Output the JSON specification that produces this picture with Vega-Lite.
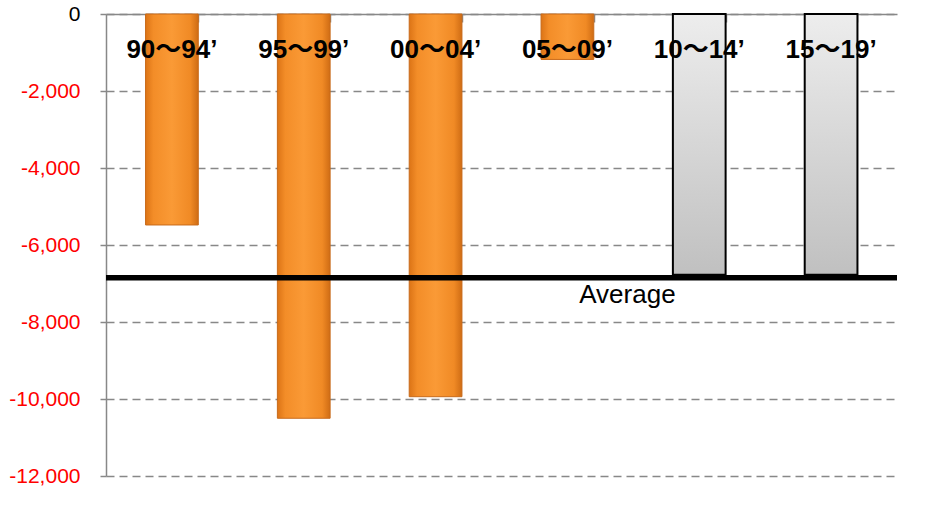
{
  "$schema": "https://vega.github.io/schema/vega-lite/v6.json",
  "width": 791,
  "height": 462,
  "autosize": {"type": "none"},
  "padding": {"left": 106, "top": 14, "right": 31, "bottom": 43},
  "background": "white",
  "config": {"view": {"stroke": null}, "font": "Liberation Sans"},
  "data": {
    "values": [
      {"period": "90～94’", "value": -5480, "kind": "actual"},
      {"period": "95～99’", "value": -10500, "kind": "actual"},
      {"period": "00～04’", "value": -9940, "kind": "actual"},
      {"period": "05～09’", "value": -1180, "kind": "actual"},
      {"period": "10～14’", "value": -6775, "kind": "forecast"},
      {"period": "15～19’", "value": -6775, "kind": "forecast"}
    ]
  },
  "encoding": {
    "x": {
      "field": "period",
      "type": "nominal",
      "sort": null,
      "scale": {"paddingInner": 0.6, "paddingOuter": 0.3},
      "axis": {
        "orient": "top",
        "title": null,
        "labels": false,
        "domainColor": "#888888",
        "domainWidth": 1.5,
        "tickColor": "#888888",
        "tickWidth": 1.5,
        "tickSize": -8,
        "tickBand": "extent"
      }
    }
  },
  "layer": [
    {
      "transform": [{"filter": "datum.kind == 'actual'"}],
      "mark": {
        "type": "bar",
        "stroke": "#C86A1A",
        "strokeWidth": 1,
        "color": {
          "gradient": "linear",
          "x1": 0, "x2": 1, "y1": 0, "y2": 0,
          "stops": [
            {"offset": 0, "color": "#DC7416"},
            {"offset": 0.15, "color": "#F38D28"},
            {"offset": 0.5, "color": "#FA9A36"},
            {"offset": 0.85, "color": "#F08A25"},
            {"offset": 1, "color": "#CF6C14"}
          ]
        }
      },
      "encoding": {
        "y": {
          "field": "value",
          "type": "quantitative",
          "scale": {"domain": [-12000, 0], "nice": false},
          "axis": {
            "title": null,
            "values": [0, -2000, -4000, -6000, -8000, -10000, -12000],
            "labelExpr": "replace(format(datum.value, ','), '\u2212', '-')",
            "labelFontSize": 21,
            "labelFont": "Liberation Sans",
            "labelColor": {"condition": {"test": "datum.value == 0", "value": "black"}, "value": "#FF0000"},
            "labelPadding": 20,
            "tickSize": 6,
            "tickColor": "#888888",
            "tickWidth": 1.5,
            "domainColor": "#888888",
            "domainWidth": 1.5,
            "grid": true,
            "gridColor": "#888888",
            "gridDash": [8, 5],
            "gridWidth": 1.3
          }
        }
      }
    },
    {
      "transform": [{"filter": "datum.kind == 'forecast'"}],
      "mark": {
        "type": "bar",
        "stroke": "black",
        "strokeWidth": 2,
        "color": {
          "gradient": "linear",
          "x1": 0, "x2": 0, "y1": 0, "y2": 1,
          "stops": [
            {"offset": 0, "color": "#EDEDED"},
            {"offset": 1, "color": "#C0C0C0"}
          ]
        }
      },
      "encoding": {
        "y": {"field": "value", "type": "quantitative"}
      }
    },
    {
      "mark": {
        "type": "text",
        "font": "'Liberation Sans', 'Noto Sans CJK JP'",
        "fontWeight": "bold",
        "fontSize": 26,
        "color": "black",
        "baseline": "middle",
        "align": "center",
        "dy": 36
      },
      "encoding": {
        "y": {"datum": 0, "type": "quantitative"},
        "text": {"field": "period"}
      }
    },
    {
      "data": {"values": [{"label": "Average", "value": -6850, "at": "05～09’"}]},
      "layer": [
        {
          "mark": {"type": "rule", "color": "black", "strokeWidth": 5.5},
          "encoding": {
            "x": null,
            "y": {"field": "value", "type": "quantitative"}
          }
        },
        {
          "mark": {
            "type": "text",
            "font": "Liberation Sans",
            "fontSize": 26,
            "color": "black",
            "align": "center",
            "baseline": "middle",
            "dx": 60,
            "dy": 17
          },
          "encoding": {
            "x": {"field": "at", "type": "nominal"},
            "y": {"field": "value", "type": "quantitative"},
            "text": {"field": "label"}
          }
        }
      ]
    }
  ]
}
